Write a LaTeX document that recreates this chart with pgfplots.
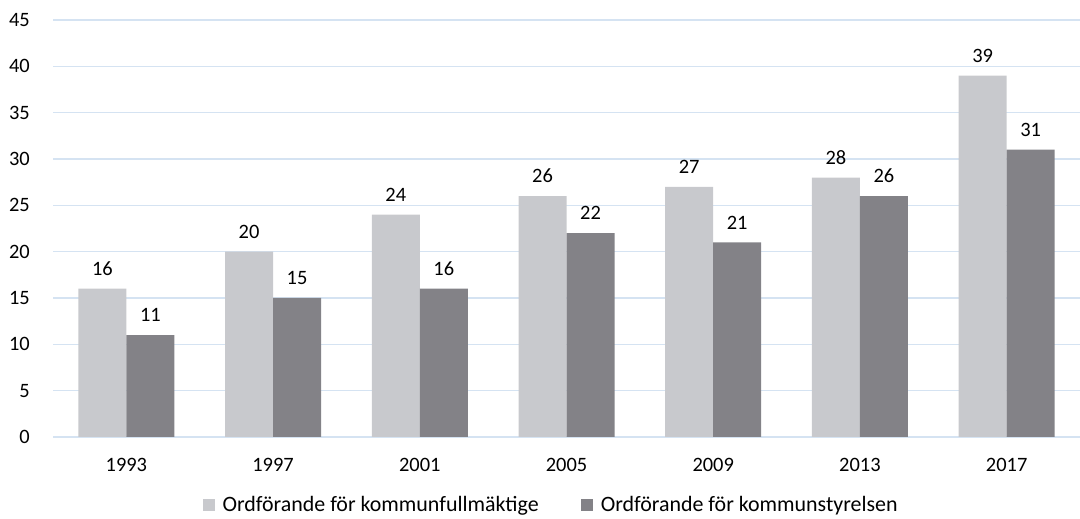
\documentclass[border=0pt]{standalone}
\usepackage{pgfplots}
\pgfplotsset{compat=1.18}
\usepackage{fontspec}
\setmainfont{Carlito}
\definecolor{cA}{HTML}{C8C9CD}
\definecolor{cB}{HTML}{838287}
\definecolor{gridc}{HTML}{D5E3F2}
\begin{document}
\begin{tikzpicture}
\begin{axis}[
  name=ax, scale only axis, width=1027bp, height=417bp,
  xmin=-0.5, xmax=6.5, ymin=0, ymax=45,
  ytick={0,5,...,45}, xtick={0,...,6},
  xticklabels={1993,1997,2001,2005,2009,2013,2017},
  axis line style={draw=none}, ymajorgrids,
  grid style={draw=gridc, line width=1.3bp},
  major tick length=0pt,
  ybar=0pt, bar width=48bp,
  tick label style={font=\fontsize{20.5}{24}\selectfont, text=black, inner sep=0pt},
  /pgf/number format/assume math mode=true,
  yticklabel style={anchor=east, xshift=-23bp},
  xticklabel style={anchor=north, yshift=-21bp},
  nodes near coords,
  every node near coord/.append style={font=\fontsize{20.5}{24}\selectfont, text=black, inner sep=0pt, anchor=south, yshift=13bp},
  clip=false,
  legend columns=2,
  legend style={draw=none, fill=none, at={(0.484,-0.162)}, anchor=center,
    font=\fontsize{22}{26}\selectfont, nodes={inner sep=0pt},
    /tikz/every odd column/.append style={column sep=8bp},
    /tikz/every even column/.append style={column sep=42bp}},
  legend image code/.code={\fill[#1] (0bp,-6bp) rectangle (12bp,6bp);},
]
\addplot[fill=cA, draw=none] coordinates {(0,16) (1,20) (2,24) (3,26) (4,27) (5,28) (6,39)};
\addplot[fill=cB, draw=none] coordinates {(0,11) (1,15) (2,16) (3,22) (4,21) (5,26) (6,31)};
\legend{Ordförande för kommunfullmäktige, Ordförande för kommunstyrelsen}
\end{axis}
\pgfresetboundingbox
\path[use as bounding box] (ax.south west) ++(-53bp,-82bp) rectangle ([shift={(0bp,20bp)}]ax.north east);
\end{tikzpicture}
\end{document}
